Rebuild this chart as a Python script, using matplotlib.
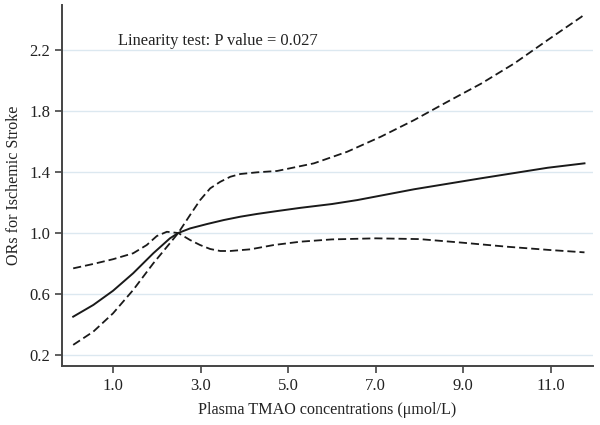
import matplotlib
matplotlib.use("Agg")
import matplotlib.pyplot as plt
import numpy as np

plt.rcParams['font.family'] = ['Liberation Serif', 'DejaVu Serif']

# values
x_or = [0.09, 0.55, 1.0, 1.46, 1.92, 2.3, 2.49, 2.76, 3.15, 3.53, 3.91, 4.29,
        4.75, 5.28, 6.0, 6.58, 7.88, 9.41, 10.93, 11.77]
or_est = [0.451, 0.528, 0.621, 0.736, 0.867, 0.965, 1.0, 1.03, 1.059, 1.085,
          1.107, 1.125, 1.144, 1.165, 1.19, 1.216, 1.287, 1.359, 1.428, 1.457]

x_a = [0.09, 0.55, 1.0, 1.46, 1.77, 2.0, 2.23, 2.49, 2.76, 2.99, 3.22, 3.45,
       3.68, 4.14, 4.67, 5.28, 6.0, 7.0, 8.0, 9.0, 10.0, 11.0, 11.77]
ci_a = [0.768, 0.797, 0.828, 0.867, 0.921, 0.98, 1.008, 1.0, 0.954, 0.921,
        0.895, 0.882, 0.882, 0.893, 0.921, 0.943, 0.958, 0.965, 0.96, 0.936,
        0.91, 0.888, 0.873]

x_b = [0.09, 0.55, 1.0, 1.46, 1.92, 2.3, 2.49, 2.76, 2.99, 3.22, 3.45, 3.68,
       3.91, 4.29, 4.75, 5.59, 6.35, 7.12, 7.88, 8.64, 9.41, 10.17, 10.93,
       11.7, 11.77]
ci_b = [0.266, 0.353, 0.473, 0.626, 0.801, 0.933, 1.0, 1.118, 1.216, 1.293,
        1.336, 1.369, 1.387, 1.398, 1.407, 1.457, 1.533, 1.632, 1.741, 1.861,
        1.98, 2.113, 2.266, 2.418, 2.436]

y_ticks = [0.2, 0.6, 1.0, 1.4, 1.8, 2.2]
x_ticks = [1.0, 3.0, 5.0, 7.0, 9.0, 11.0]

fig = plt.figure(figsize=(6, 4.25), dpi=100)
ax = fig.add_axes([0.103, 0.139, 0.885, 0.849])

for yv in y_ticks:
  ax.axhline(yv, color='#dce8f0', lw=1.0, zorder=0)

ax.plot(x_or, or_est, color='#1a1a1a', lw=1.4)
ax.plot(x_a, ci_a, color='#1a1a1a', lw=1.3, dashes=(4.5, 2.2))
ax.plot(x_b, ci_b, color='#1a1a1a', lw=1.3, dashes=(4.5, 2.2))

ax.set_xlim(-0.17, 11.96)
ax.set_ylim(0.128, 2.495)
ax.set_xticks(x_ticks)
ax.set_xticklabels(['%.1f' % v for v in x_ticks])
ax.set_yticks(y_ticks)
ax.set_yticklabels(['%.1f' % v for v in y_ticks])

ax.spines['right'].set_visible(False)
ax.spines['top'].set_visible(False)
for s in ['left', 'bottom']:
  ax.spines[s].set_color('#444444')
  ax.spines[s].set_linewidth(1.4)
ax.tick_params(colors='#444444', labelcolor='#222222', labelsize=12,
               length=5, width=1.2)

ax.text(1.11, 2.26, 'Linearity test: P value = 0.027', fontsize=11.9,
        color='#222222', va='center', ha='left')

ax.set_xlabel('Plasma TMAO concentrations (\u03bcmol/L)', fontsize=11.6,
              color='#222222', labelpad=6)
ax.set_ylabel('ORs for Ischemic Stroke', fontsize=11.6, color='#222222',
              labelpad=5)

fig.savefig('out.png', dpi=100)
